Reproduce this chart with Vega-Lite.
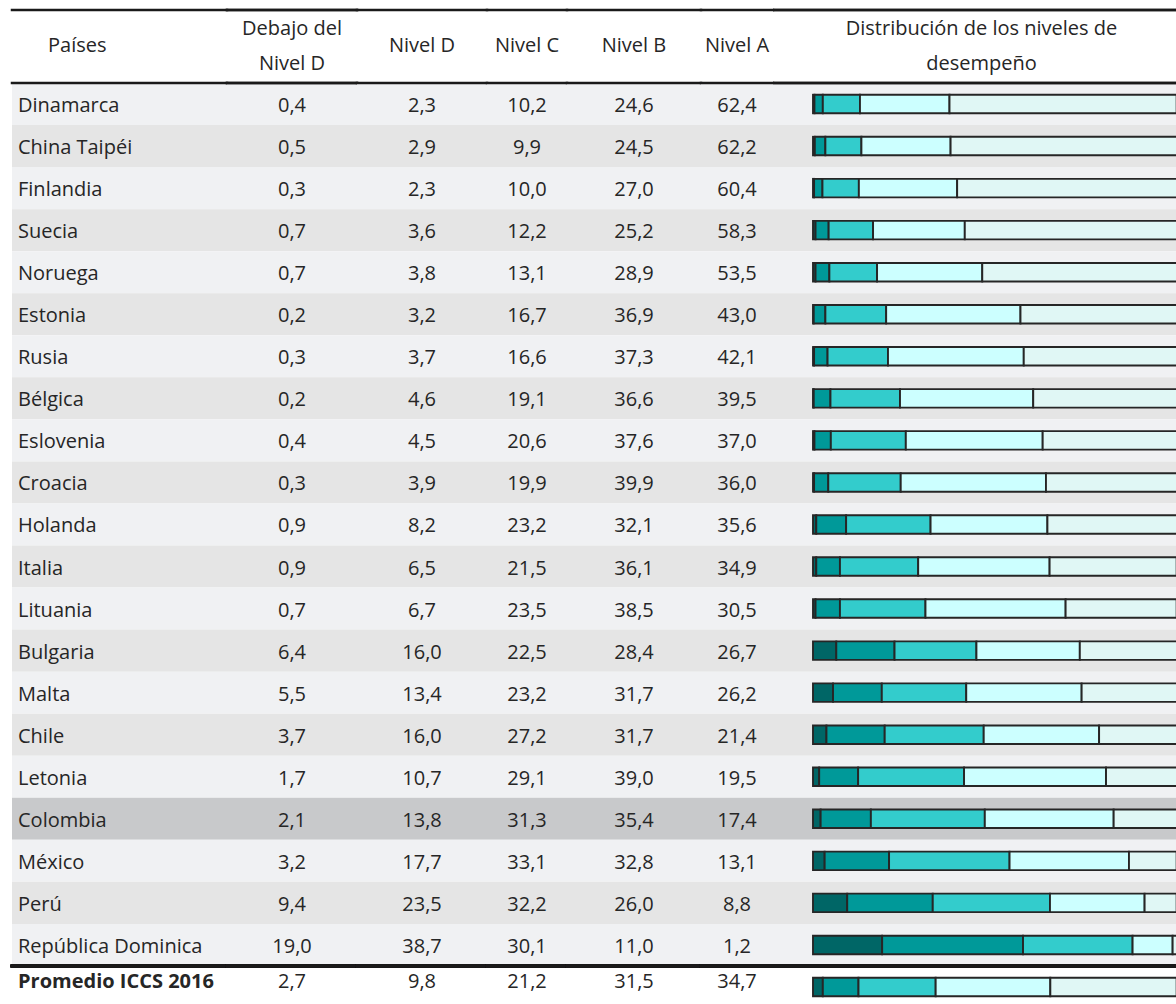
{
  "$schema": "https://vega.github.io/schema/vega-lite/v6.json",
  "padding": {"left": 10, "top": 0, "right": 0, "bottom": 0},
  "background": "#ffffff",
  "spacing": 0,
  "bounds": "flush",
  "config": {
    "view": {"stroke": null},
    "concat": {"spacing": 0},
    "locale": {"number": {"decimal": ",", "thousands": ".", "grouping": [3], "currency": ["", " €"]}},
    "text": {"font": "Open Sans", "fontSize": 20, "color": "#262626", "dy": 2}
  },
  "datasets": {
    "tabla": [
      {"pais": "Dinamarca", "d0": 0.4, "d1": 2.3, "d2": 10.2, "d3": 24.6, "d4": 62.4},
      {"pais": "China Taipéi", "d0": 0.5, "d1": 2.9, "d2": 9.9, "d3": 24.5, "d4": 62.2},
      {"pais": "Finlandia", "d0": 0.3, "d1": 2.3, "d2": 10.0, "d3": 27.0, "d4": 60.4},
      {"pais": "Suecia", "d0": 0.7, "d1": 3.6, "d2": 12.2, "d3": 25.2, "d4": 58.3},
      {"pais": "Noruega", "d0": 0.7, "d1": 3.8, "d2": 13.1, "d3": 28.9, "d4": 53.5},
      {"pais": "Estonia", "d0": 0.2, "d1": 3.2, "d2": 16.7, "d3": 36.9, "d4": 43.0},
      {"pais": "Rusia", "d0": 0.3, "d1": 3.7, "d2": 16.6, "d3": 37.3, "d4": 42.1},
      {"pais": "Bélgica", "d0": 0.2, "d1": 4.6, "d2": 19.1, "d3": 36.6, "d4": 39.5},
      {"pais": "Eslovenia", "d0": 0.4, "d1": 4.5, "d2": 20.6, "d3": 37.6, "d4": 37.0},
      {"pais": "Croacia", "d0": 0.3, "d1": 3.9, "d2": 19.9, "d3": 39.9, "d4": 36.0},
      {"pais": "Holanda", "d0": 0.9, "d1": 8.2, "d2": 23.2, "d3": 32.1, "d4": 35.6},
      {"pais": "Italia", "d0": 0.9, "d1": 6.5, "d2": 21.5, "d3": 36.1, "d4": 34.9},
      {"pais": "Lituania", "d0": 0.7, "d1": 6.7, "d2": 23.5, "d3": 38.5, "d4": 30.5},
      {"pais": "Bulgaria", "d0": 6.4, "d1": 16.0, "d2": 22.5, "d3": 28.4, "d4": 26.7},
      {"pais": "Malta", "d0": 5.5, "d1": 13.4, "d2": 23.2, "d3": 31.7, "d4": 26.2},
      {"pais": "Chile", "d0": 3.7, "d1": 16.0, "d2": 27.2, "d3": 31.7, "d4": 21.4},
      {"pais": "Letonia", "d0": 1.7, "d1": 10.7, "d2": 29.1, "d3": 39.0, "d4": 19.5},
      {"pais": "Colombia", "d0": 2.1, "d1": 13.8, "d2": 31.3, "d3": 35.4, "d4": 17.4},
      {"pais": "México", "d0": 3.2, "d1": 17.7, "d2": 33.1, "d3": 32.8, "d4": 13.1},
      {"pais": "Perú", "d0": 9.4, "d1": 23.5, "d2": 32.2, "d3": 26.0, "d4": 8.8},
      {"pais": "República Dominica", "d0": 19.0, "d1": 38.7, "d2": 30.1, "d3": 11.0, "d4": 1.2},
      {"pais": "Promedio ICCS 2016", "d0": 2.7, "d1": 9.8, "d2": 21.2, "d3": 31.5, "d4": 34.7}
    ]
  },
  "hconcat": [
    {
      "width": 215, "height": 1004,
      "resolve": {"scale": {"y": "independent"}},
      "encoding": {"x": {"datum": "izq", "type": "nominal", "bandPosition": 0, "axis": null, "scale": {"type": "band", "domain": ["izq"], "paddingInner": 0, "paddingOuter": 0}}},
      "layer": [
        {
          "data": {"name": "tabla"},
          "encoding": {"y": {"field": "pais", "type": "nominal", "axis": null, "scale": {"domain": ["Dinamarca", "China Taipéi", "Finlandia", "Suecia", "Noruega", "Estonia", "Rusia", "Bélgica", "Eslovenia", "Croacia", "Holanda", "Italia", "Lituania", "Bulgaria", "Malta", "Chile", "Letonia", "Colombia", "México", "Perú", "República Dominica", "Promedio ICCS 2016"], "range": [83, 1008], "paddingInner": 0, "paddingOuter": 0}}},
          "layer": [
            {"transform": [{"window": [{"op": "row_number", "as": "rn"}]}, {"filter": "datum.pais !== 'Promedio ICCS 2016'"}],
             "mark": {"type": "rect"},
             "encoding": {"x": null, "color": {"condition": [{"test": "datum.pais === 'Colombia'", "value": "#c8c9cb"}, {"test": "datum.rn % 2 === 0", "value": "#e5e5e5"}], "value": "#f0f1f3"}}},
            {"transform": [{"filter": "datum.pais !== 'Promedio ICCS 2016'"}],
             "mark": {"type": "text", "align": "left", "baseline": "middle", "dx": 6},
             "encoding": {"text": {"field": "pais"}}},
            {"transform": [{"filter": "datum.pais === 'Promedio ICCS 2016'"}],
             "mark": {"type": "text", "align": "left", "baseline": "middle", "dx": 6, "dy": -5, "fontWeight": "bold"},
             "encoding": {"text": {"field": "pais"}}},
            {"mark": {"type": "rule", "stroke": "#1a1a1a", "strokeWidth": 2.5, "strokeCap": "square"},
             "encoding": {"x": null, "y": {"datum": "Promedio ICCS 2016", "bandPosition": 0, "axis": null}}}
          ]
        },
        {
          "data": {"values": [{"linea": "mid", "texto": "Países"}]},
          "encoding": {"y": {"field": "linea", "type": "nominal", "axis": null, "scale": {"type": "point", "domain": ["top", "f1", "f2", "f3", "l1", "f4", "f5", "f6", "mid", "f7", "f8", "f9", "l2", "f10", "f11", "f12", "f13", "bot"], "range": [10, 83], "padding": 0}}},
          "layer": [
            {"mark": {"type": "text", "align": "left", "baseline": "middle", "dx": 36}, "encoding": {"text": {"field": "texto"}}},
            {"mark": {"type": "rule", "stroke": "#1a1a1a", "strokeWidth": 2.5, "strokeCap": "square"}, "encoding": {"x": null, "y": {"datum": "top", "axis": null}}},
            {"mark": {"type": "rule", "stroke": "#1a1a1a", "strokeWidth": 2.5, "strokeCap": "square"}, "encoding": {"x": null, "y": {"datum": "bot", "axis": null}}}
          ]
        }
      ]
    },
    {
      "width": 130, "height": 1004,
      "resolve": {"scale": {"y": "independent"}},
      "layer": [
        {
          "data": {"name": "tabla"},
          "encoding": {"y": {"field": "pais", "type": "nominal", "axis": null, "scale": {"domain": ["Dinamarca", "China Taipéi", "Finlandia", "Suecia", "Noruega", "Estonia", "Rusia", "Bélgica", "Eslovenia", "Croacia", "Holanda", "Italia", "Lituania", "Bulgaria", "Malta", "Chile", "Letonia", "Colombia", "México", "Perú", "República Dominica", "Promedio ICCS 2016"], "range": [83, 1008], "paddingInner": 0, "paddingOuter": 0}}},
          "layer": [
            {"transform": [{"window": [{"op": "row_number", "as": "rn"}]}, {"filter": "datum.pais !== 'Promedio ICCS 2016'"}],
             "mark": {"type": "rect"},
             "encoding": {"color": {"condition": [{"test": "datum.pais === 'Colombia'", "value": "#c8c9cb"}, {"test": "datum.rn % 2 === 0", "value": "#e5e5e5"}], "value": "#f0f1f3"}}},
            {"transform": [{"filter": "datum.pais !== 'Promedio ICCS 2016'"}],
             "mark": {"type": "text", "align": "center", "baseline": "middle"},
             "encoding": {"text": {"field": "d0", "type": "quantitative", "format": ".1f"}}},
            {"transform": [{"filter": "datum.pais === 'Promedio ICCS 2016'"}],
             "mark": {"type": "text", "align": "center", "baseline": "middle", "dy": -5},
             "encoding": {"text": {"field": "d0", "type": "quantitative", "format": ".1f"}}},
            {"mark": {"type": "rule", "stroke": "#1a1a1a", "strokeWidth": 2.5, "strokeCap": "square"},
             "encoding": {"y": {"datum": "Promedio ICCS 2016", "bandPosition": 0, "axis": null}}}
          ]
        },
        {
          "data": {"values": [{"linea": "l1", "texto": "Debajo del"}, {"linea": "l2", "texto": "Nivel D"}]},
          "encoding": {"y": {"field": "linea", "type": "nominal", "axis": null, "scale": {"type": "point", "domain": ["top", "f1", "f2", "f3", "l1", "f4", "f5", "f6", "mid", "f7", "f8", "f9", "l2", "f10", "f11", "f12", "f13", "bot"], "range": [10, 83], "padding": 0}}},
          "layer": [
            {"mark": {"type": "text", "align": "center", "baseline": "middle"}, "encoding": {"text": {"field": "texto"}}},
            {"mark": {"type": "rule", "stroke": "#1a1a1a", "strokeWidth": 2.5, "strokeCap": "square"}, "encoding": {"y": {"datum": "top", "axis": null}}},
            {"mark": {"type": "rule", "stroke": "#1a1a1a", "strokeWidth": 2.5, "strokeCap": "square"}, "encoding": {"y": {"datum": "bot", "axis": null}}}
          ]
        }
      ]
    },
    {
      "width": 130, "height": 1004,
      "resolve": {"scale": {"y": "independent"}},
      "layer": [
        {
          "data": {"name": "tabla"},
          "encoding": {"y": {"field": "pais", "type": "nominal", "axis": null, "scale": {"domain": ["Dinamarca", "China Taipéi", "Finlandia", "Suecia", "Noruega", "Estonia", "Rusia", "Bélgica", "Eslovenia", "Croacia", "Holanda", "Italia", "Lituania", "Bulgaria", "Malta", "Chile", "Letonia", "Colombia", "México", "Perú", "República Dominica", "Promedio ICCS 2016"], "range": [83, 1008], "paddingInner": 0, "paddingOuter": 0}}},
          "layer": [
            {"transform": [{"window": [{"op": "row_number", "as": "rn"}]}, {"filter": "datum.pais !== 'Promedio ICCS 2016'"}],
             "mark": {"type": "rect"},
             "encoding": {"color": {"condition": [{"test": "datum.pais === 'Colombia'", "value": "#c8c9cb"}, {"test": "datum.rn % 2 === 0", "value": "#e5e5e5"}], "value": "#f0f1f3"}}},
            {"transform": [{"filter": "datum.pais !== 'Promedio ICCS 2016'"}],
             "mark": {"type": "text", "align": "center", "baseline": "middle"},
             "encoding": {"text": {"field": "d1", "type": "quantitative", "format": ".1f"}}},
            {"transform": [{"filter": "datum.pais === 'Promedio ICCS 2016'"}],
             "mark": {"type": "text", "align": "center", "baseline": "middle", "dy": -5},
             "encoding": {"text": {"field": "d1", "type": "quantitative", "format": ".1f"}}},
            {"mark": {"type": "rule", "stroke": "#1a1a1a", "strokeWidth": 2.5, "strokeCap": "square"},
             "encoding": {"y": {"datum": "Promedio ICCS 2016", "bandPosition": 0, "axis": null}}}
          ]
        },
        {
          "data": {"values": [{"linea": "mid", "texto": "Nivel D"}]},
          "encoding": {"y": {"field": "linea", "type": "nominal", "axis": null, "scale": {"type": "point", "domain": ["top", "f1", "f2", "f3", "l1", "f4", "f5", "f6", "mid", "f7", "f8", "f9", "l2", "f10", "f11", "f12", "f13", "bot"], "range": [10, 83], "padding": 0}}},
          "layer": [
            {"mark": {"type": "text", "align": "center", "baseline": "middle"}, "encoding": {"text": {"field": "texto"}}},
            {"mark": {"type": "rule", "stroke": "#1a1a1a", "strokeWidth": 2.5, "strokeCap": "square"}, "encoding": {"y": {"datum": "top", "axis": null}}},
            {"mark": {"type": "rule", "stroke": "#1a1a1a", "strokeWidth": 2.5, "strokeCap": "square"}, "encoding": {"y": {"datum": "bot", "axis": null}}}
          ]
        }
      ]
    },
    {
      "width": 80, "height": 1004,
      "resolve": {"scale": {"y": "independent"}},
      "layer": [
        {
          "data": {"name": "tabla"},
          "encoding": {"y": {"field": "pais", "type": "nominal", "axis": null, "scale": {"domain": ["Dinamarca", "China Taipéi", "Finlandia", "Suecia", "Noruega", "Estonia", "Rusia", "Bélgica", "Eslovenia", "Croacia", "Holanda", "Italia", "Lituania", "Bulgaria", "Malta", "Chile", "Letonia", "Colombia", "México", "Perú", "República Dominica", "Promedio ICCS 2016"], "range": [83, 1008], "paddingInner": 0, "paddingOuter": 0}}},
          "layer": [
            {"transform": [{"window": [{"op": "row_number", "as": "rn"}]}, {"filter": "datum.pais !== 'Promedio ICCS 2016'"}],
             "mark": {"type": "rect"},
             "encoding": {"color": {"condition": [{"test": "datum.pais === 'Colombia'", "value": "#c8c9cb"}, {"test": "datum.rn % 2 === 0", "value": "#e5e5e5"}], "value": "#f0f1f3"}}},
            {"transform": [{"filter": "datum.pais !== 'Promedio ICCS 2016'"}],
             "mark": {"type": "text", "align": "center", "baseline": "middle"},
             "encoding": {"text": {"field": "d2", "type": "quantitative", "format": ".1f"}}},
            {"transform": [{"filter": "datum.pais === 'Promedio ICCS 2016'"}],
             "mark": {"type": "text", "align": "center", "baseline": "middle", "dy": -5},
             "encoding": {"text": {"field": "d2", "type": "quantitative", "format": ".1f"}}},
            {"mark": {"type": "rule", "stroke": "#1a1a1a", "strokeWidth": 2.5, "strokeCap": "square"},
             "encoding": {"y": {"datum": "Promedio ICCS 2016", "bandPosition": 0, "axis": null}}}
          ]
        },
        {
          "data": {"values": [{"linea": "mid", "texto": "Nivel C"}]},
          "encoding": {"y": {"field": "linea", "type": "nominal", "axis": null, "scale": {"type": "point", "domain": ["top", "f1", "f2", "f3", "l1", "f4", "f5", "f6", "mid", "f7", "f8", "f9", "l2", "f10", "f11", "f12", "f13", "bot"], "range": [10, 83], "padding": 0}}},
          "layer": [
            {"mark": {"type": "text", "align": "center", "baseline": "middle"}, "encoding": {"text": {"field": "texto"}}},
            {"mark": {"type": "rule", "stroke": "#1a1a1a", "strokeWidth": 2.5, "strokeCap": "square"}, "encoding": {"y": {"datum": "top", "axis": null}}},
            {"mark": {"type": "rule", "stroke": "#1a1a1a", "strokeWidth": 2.5, "strokeCap": "square"}, "encoding": {"y": {"datum": "bot", "axis": null}}}
          ]
        }
      ]
    },
    {
      "width": 134, "height": 1004,
      "resolve": {"scale": {"y": "independent"}},
      "layer": [
        {
          "data": {"name": "tabla"},
          "encoding": {"y": {"field": "pais", "type": "nominal", "axis": null, "scale": {"domain": ["Dinamarca", "China Taipéi", "Finlandia", "Suecia", "Noruega", "Estonia", "Rusia", "Bélgica", "Eslovenia", "Croacia", "Holanda", "Italia", "Lituania", "Bulgaria", "Malta", "Chile", "Letonia", "Colombia", "México", "Perú", "República Dominica", "Promedio ICCS 2016"], "range": [83, 1008], "paddingInner": 0, "paddingOuter": 0}}},
          "layer": [
            {"transform": [{"window": [{"op": "row_number", "as": "rn"}]}, {"filter": "datum.pais !== 'Promedio ICCS 2016'"}],
             "mark": {"type": "rect"},
             "encoding": {"color": {"condition": [{"test": "datum.pais === 'Colombia'", "value": "#c8c9cb"}, {"test": "datum.rn % 2 === 0", "value": "#e5e5e5"}], "value": "#f0f1f3"}}},
            {"transform": [{"filter": "datum.pais !== 'Promedio ICCS 2016'"}],
             "mark": {"type": "text", "align": "center", "baseline": "middle"},
             "encoding": {"text": {"field": "d3", "type": "quantitative", "format": ".1f"}}},
            {"transform": [{"filter": "datum.pais === 'Promedio ICCS 2016'"}],
             "mark": {"type": "text", "align": "center", "baseline": "middle", "dy": -5},
             "encoding": {"text": {"field": "d3", "type": "quantitative", "format": ".1f"}}},
            {"mark": {"type": "rule", "stroke": "#1a1a1a", "strokeWidth": 2.5, "strokeCap": "square"},
             "encoding": {"y": {"datum": "Promedio ICCS 2016", "bandPosition": 0, "axis": null}}}
          ]
        },
        {
          "data": {"values": [{"linea": "mid", "texto": "Nivel B"}]},
          "encoding": {"y": {"field": "linea", "type": "nominal", "axis": null, "scale": {"type": "point", "domain": ["top", "f1", "f2", "f3", "l1", "f4", "f5", "f6", "mid", "f7", "f8", "f9", "l2", "f10", "f11", "f12", "f13", "bot"], "range": [10, 83], "padding": 0}}},
          "layer": [
            {"mark": {"type": "text", "align": "center", "baseline": "middle"}, "encoding": {"text": {"field": "texto"}}},
            {"mark": {"type": "rule", "stroke": "#1a1a1a", "strokeWidth": 2.5, "strokeCap": "square"}, "encoding": {"y": {"datum": "top", "axis": null}}},
            {"mark": {"type": "rule", "stroke": "#1a1a1a", "strokeWidth": 2.5, "strokeCap": "square"}, "encoding": {"y": {"datum": "bot", "axis": null}}}
          ]
        }
      ]
    },
    {
      "width": 72, "height": 1004,
      "resolve": {"scale": {"y": "independent"}},
      "layer": [
        {
          "data": {"name": "tabla"},
          "encoding": {"y": {"field": "pais", "type": "nominal", "axis": null, "scale": {"domain": ["Dinamarca", "China Taipéi", "Finlandia", "Suecia", "Noruega", "Estonia", "Rusia", "Bélgica", "Eslovenia", "Croacia", "Holanda", "Italia", "Lituania", "Bulgaria", "Malta", "Chile", "Letonia", "Colombia", "México", "Perú", "República Dominica", "Promedio ICCS 2016"], "range": [83, 1008], "paddingInner": 0, "paddingOuter": 0}}},
          "layer": [
            {"transform": [{"window": [{"op": "row_number", "as": "rn"}]}, {"filter": "datum.pais !== 'Promedio ICCS 2016'"}],
             "mark": {"type": "rect"},
             "encoding": {"color": {"condition": [{"test": "datum.pais === 'Colombia'", "value": "#c8c9cb"}, {"test": "datum.rn % 2 === 0", "value": "#e5e5e5"}], "value": "#f0f1f3"}}},
            {"transform": [{"filter": "datum.pais !== 'Promedio ICCS 2016'"}],
             "mark": {"type": "text", "align": "center", "baseline": "middle"},
             "encoding": {"text": {"field": "d4", "type": "quantitative", "format": ".1f"}}},
            {"transform": [{"filter": "datum.pais === 'Promedio ICCS 2016'"}],
             "mark": {"type": "text", "align": "center", "baseline": "middle", "dy": -5},
             "encoding": {"text": {"field": "d4", "type": "quantitative", "format": ".1f"}}},
            {"mark": {"type": "rule", "stroke": "#1a1a1a", "strokeWidth": 2.5, "strokeCap": "square"},
             "encoding": {"y": {"datum": "Promedio ICCS 2016", "bandPosition": 0, "axis": null}}}
          ]
        },
        {
          "data": {"values": [{"linea": "mid", "texto": "Nivel A"}]},
          "encoding": {"y": {"field": "linea", "type": "nominal", "axis": null, "scale": {"type": "point", "domain": ["top", "f1", "f2", "f3", "l1", "f4", "f5", "f6", "mid", "f7", "f8", "f9", "l2", "f10", "f11", "f12", "f13", "bot"], "range": [10, 83], "padding": 0}}},
          "layer": [
            {"mark": {"type": "text", "align": "center", "baseline": "middle"}, "encoding": {"text": {"field": "texto"}}},
            {"mark": {"type": "rule", "stroke": "#1a1a1a", "strokeWidth": 2.5, "strokeCap": "square"}, "encoding": {"y": {"datum": "top", "axis": null}}},
            {"mark": {"type": "rule", "stroke": "#1a1a1a", "strokeWidth": 2.5, "strokeCap": "square"}, "encoding": {"y": {"datum": "bot", "axis": null}}}
          ]
        }
      ]
    },
    {
      "width": 405, "height": 1004,
      "resolve": {"scale": {"y": "independent"}},
      "layer": [
        {
          "data": {"name": "tabla"},
          "encoding": {"y": {"field": "pais", "type": "nominal", "axis": null, "scale": {"domain": ["Dinamarca", "China Taipéi", "Finlandia", "Suecia", "Noruega", "Estonia", "Rusia", "Bélgica", "Eslovenia", "Croacia", "Holanda", "Italia", "Lituania", "Bulgaria", "Malta", "Chile", "Letonia", "Colombia", "México", "Perú", "República Dominica", "Promedio ICCS 2016"], "range": [83, 1008], "paddingInner": 0, "paddingOuter": 0}}},
          "layer": [
            {"transform": [{"window": [{"op": "row_number", "as": "rn"}]}, {"filter": "datum.pais !== 'Promedio ICCS 2016'"}],
             "mark": {"type": "rect"},
             "encoding": {"color": {"condition": [{"test": "datum.pais === 'Colombia'", "value": "#c8c9cb"}, {"test": "datum.rn % 2 === 0", "value": "#e5e5e5"}], "value": "#f0f1f3"}}},
            {"transform": [{"fold": ["d0", "d1", "d2", "d3", "d4"], "as": ["nivel", "valor"]}],
             "mark": {"type": "bar", "height": {"band": 0.44}, "stroke": "#262626", "strokeWidth": 1.9},
             "encoding": {
               "x": {"field": "valor", "type": "quantitative", "stack": "zero", "axis": null,
                     "scale": {"domain": [0, 100], "range": [40, 404], "nice": false}},
               "order": {"field": "nivel", "sort": "ascending"},
               "color": {"field": "nivel", "type": "nominal", "legend": null,
                         "scale": {"domain": ["d0", "d1", "d2", "d3", "d4"], "range": ["#006666", "#009999", "#33cccc", "#ccffff", "#e0f7f5"]}}
             }},
            {"mark": {"type": "rule", "stroke": "#1a1a1a", "strokeWidth": 2.5},
             "encoding": {"y": {"datum": "Promedio ICCS 2016", "bandPosition": 0, "axis": null}}}
          ]
        },
        {
          "data": {"values": [{"linea": "l1", "texto": "Distribución de los niveles de"}, {"linea": "l2", "texto": "desempeño"}]},
          "encoding": {"y": {"field": "linea", "type": "nominal", "axis": null, "scale": {"type": "point", "domain": ["top", "f1", "f2", "f3", "l1", "f4", "f5", "f6", "mid", "f7", "f8", "f9", "l2", "f10", "f11", "f12", "f13", "bot"], "range": [10, 83], "padding": 0}}},
          "layer": [
            {"mark": {"type": "text", "align": "center", "baseline": "middle", "dx": 6}, "encoding": {"text": {"field": "texto"}}},
            {"mark": {"type": "rule", "stroke": "#1a1a1a", "strokeWidth": 2.5}, "encoding": {"y": {"datum": "top", "axis": null}}},
            {"mark": {"type": "rule", "stroke": "#1a1a1a", "strokeWidth": 2.5}, "encoding": {"y": {"datum": "bot", "axis": null}}}
          ]
        }
      ]
    }
  ]
}
